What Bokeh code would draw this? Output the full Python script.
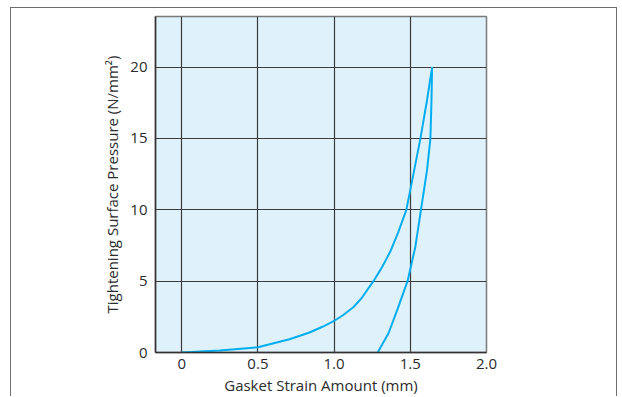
from bokeh.plotting import figure
from bokeh.models import FixedTicker, CustomJSTickFormatter, Range1d
from bokeh.embed import file_html
from bokeh.resources import INLINE

# Data
loading_strain = [0, 0.25, 0.5, 0.707, 0.839, 0.927, 1.0, 1.06, 1.126, 1.18, 1.258, 1.313, 1.368, 1.42, 1.474, 1.5, 1.566, 1.61, 1.643]
loading_pressure = [0, 0.14, 0.37, 0.93, 1.40, 1.82, 2.21, 2.63, 3.17, 3.8, 5.0, 5.95, 7.06, 8.4, 10.0, 11.4, 14.97, 17.7, 20.0]

unloading_strain = [1.643, 1.639, 1.632, 1.610, 1.570, 1.533, 1.482, 1.415, 1.357, 1.286]
unloading_pressure = [20.0, 17.7, 15.0, 12.8, 10.0, 7.4, 5.0, 3.0, 1.35, 0.0]

x_ticks = [0, 0.5, 1.0, 1.5, 2.0]
y_ticks = [0, 5, 10, 15, 20]

x_label = "Gasket Strain Amount (mm)"
y_label = "Tightening Surface Pressure (N/mm²)"

FONT = "Open Sans"
TEXT = "#2b2b2b"
GRID = "#3c3c3c"
CURVE = "#00aeef"

p = figure(width=607, height=389, output_backend="svg", toolbar_location=None,
           x_range=Range1d(-0.172, 2.0), y_range=Range1d(0, 23.55),
           min_border_left=144, min_border_right=132, min_border_top=8, min_border_bottom=44)

p.background_fill_color = "#dff1fb"
p.border_fill_color = "white"
p.outline_line_color = "#7a7a7a"
p.outline_line_width = 1.5

p.styles = {"border-top": "1.5px solid #6e6e6e", "border-left": "1.5px solid #6e6e6e",
            "border-right": "1.5px solid #6e6e6e", "margin-left": "10px", "margin-top": "7px"}

for ax in (p.xaxis, p.yaxis):
    ax.axis_line_color = "#333333"
    ax.axis_line_width = 1.5
    ax.major_tick_line_color = None
    ax.minor_tick_line_color = None
    ax.major_label_text_font = FONT
    ax.major_label_text_font_size = "15px"
    ax.major_label_text_color = TEXT
    ax.axis_label_text_font = FONT
    ax.axis_label_text_font_size = "15px"
    ax.axis_label_text_font_style = "normal"
    ax.axis_label_text_color = TEXT

p.yaxis.major_label_orientation = "horizontal"
p.xaxis.ticker = FixedTicker(ticks=x_ticks)
p.yaxis.ticker = FixedTicker(ticks=y_ticks)
p.xaxis.formatter = CustomJSTickFormatter(code="return tick == 0 ? '0' : tick.toFixed(1);")
p.xaxis.major_label_standoff = 0
p.xaxis.axis_label_standoff = 3
p.yaxis.major_label_standoff = 2
p.yaxis.axis_label_standoff = 5
p.xaxis.axis_label = x_label
p.yaxis.axis_label = y_label

p.xgrid.ticker = FixedTicker(ticks=x_ticks)
p.ygrid.ticker = FixedTicker(ticks=y_ticks)
p.grid.grid_line_color = GRID
p.grid.grid_line_width = 1.2

p.line(loading_strain, loading_pressure, line_color=CURVE, line_width=2)
p.line(unloading_strain, unloading_pressure, line_color=CURVE, line_width=2)

open("out.html", "w").write(file_html(p, INLINE))
